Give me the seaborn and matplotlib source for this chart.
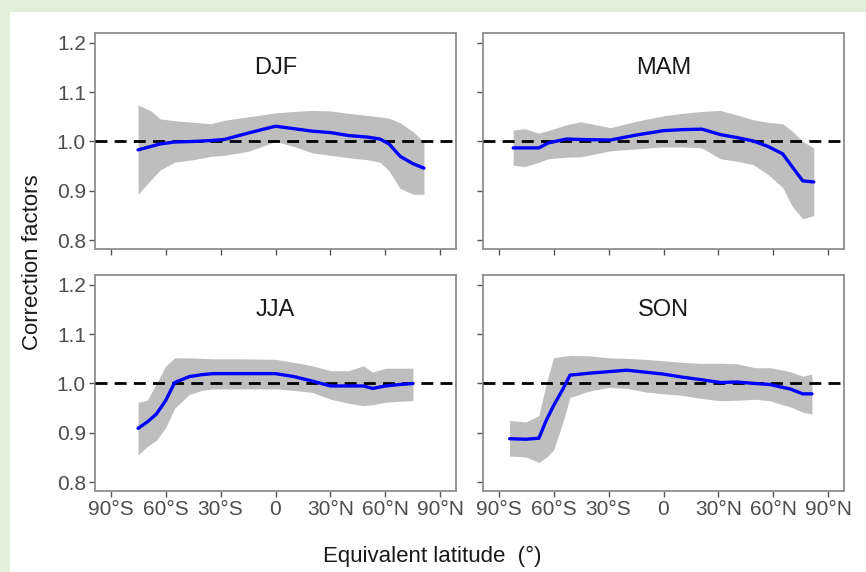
import numpy as np
import pandas as pd
import matplotlib
matplotlib.use("Agg")
import matplotlib.pyplot as plt
from matplotlib.patches import Rectangle
import seaborn as sns

sns.set_theme(style="white")
plt.rcParams['font.family'] = ['Liberation Sans', 'DejaVu Sans']

# ---------------- data ----------------
seasons = ["DJF", "MAM", "JJA", "SON"]

djf_lat = [-75, -68, -63, -55, -45, -35, -28, -15, 0, 10, 20, 30, 40, 50, 57, 62, 68, 75, 81]
djf_mean = [0.983, 0.990, 0.995, 0.999, 1.000, 1.002, 1.004, 1.017, 1.031, 1.026, 1.021, 1.018,
            1.012, 1.009, 1.005, 0.995, 0.970, 0.955, 0.946]
djf_upper = [1.074, 1.062, 1.046, 1.042, 1.039, 1.036, 1.043, 1.050, 1.058, 1.061, 1.063, 1.062,
             1.057, 1.053, 1.050, 1.047, 1.038, 1.020, 0.999]
djf_lower = [0.893, 0.922, 0.942, 0.958, 0.963, 0.970, 0.972, 0.980, 1.000, 0.990, 0.977, 0.972,
             0.967, 0.963, 0.958, 0.940, 0.905, 0.893, 0.893]

mam_lat = [-82, -76, -68, -63, -53, -45, -29, -15, 0, 10, 21, 31, 40, 49, 57, 65, 70, 76, 82]
mam_mean = [0.987, 0.987, 0.987, 0.997, 1.005, 1.004, 1.003, 1.013, 1.022, 1.024, 1.025, 1.014,
            1.008, 1.001, 0.990, 0.975, 0.950, 0.920, 0.918]
mam_upper = [1.023, 1.026, 1.017, 1.022, 1.034, 1.040, 1.028, 1.041, 1.052, 1.057, 1.061, 1.063,
             1.054, 1.044, 1.039, 1.036, 1.022, 1.000, 0.987]
mam_lower = [0.952, 0.949, 0.958, 0.965, 0.968, 0.969, 0.981, 0.985, 0.989, 0.989, 0.987, 0.965,
             0.960, 0.953, 0.933, 0.907, 0.870, 0.843, 0.850]

jja_lat = [-75, -70, -65, -60, -55, -47, -40, -34, -20, 0, 10, 20, 30, 40, 48, 53, 60, 68, 75]
jja_mean = [0.909, 0.922, 0.938, 0.965, 1.002, 1.014, 1.018, 1.020, 1.020, 1.020, 1.014, 1.005,
            0.995, 0.995, 0.995, 0.990, 0.995, 0.998, 1.000]
jja_upper = [0.962, 0.966, 1.000, 1.035, 1.052, 1.052, 1.051, 1.050, 1.050, 1.049, 1.043, 1.036,
             1.026, 1.026, 1.036, 1.023, 1.031, 1.031, 1.031]
jja_lower = [0.855, 0.872, 0.885, 0.910, 0.950, 0.978, 0.986, 0.989, 0.989, 0.989, 0.986, 0.982,
             0.968, 0.960, 0.955, 0.957, 0.962, 0.964, 0.965]

son_lat = [-84, -75, -68, -64, -60, -55, -51, -40, -30, -20, -10, 0, 10, 20, 31, 40, 50, 58, 64,
           69, 76, 81]
son_mean = [0.888, 0.887, 0.889, 0.925, 0.955, 0.988, 1.017, 1.021, 1.024, 1.027, 1.023, 1.019,
            1.013, 1.008, 1.002, 1.003, 1.000, 0.998, 0.993, 0.989, 0.979, 0.979]
son_upper = [0.925, 0.922, 0.935, 1.000, 1.052, 1.055, 1.057, 1.056, 1.052, 1.051, 1.049, 1.046,
             1.043, 1.041, 1.041, 1.040, 1.032, 1.032, 1.028, 1.024, 1.015, 1.019]
son_lower = [0.853, 0.851, 0.840, 0.850, 0.865, 0.920, 0.972, 0.985, 0.992, 0.990, 0.983, 0.979,
             0.976, 0.970, 0.965, 0.966, 0.968, 0.965, 0.958, 0.953, 0.942, 0.938]

x_ticks = [-90, -60, -30, 0, 30, 60, 90]
x_ticklabels = ["90°S", "60°S", "30°S", "0", "30°N", "60°N", "90°N"]
y_ticks = [0.8, 0.9, 1.0, 1.1, 1.2]
y_ticklabels = ["0.8", "0.9", "1.0", "1.1", "1.2"]

series = {
    "DJF": (djf_lat, djf_mean, djf_upper, djf_lower),
    "MAM": (mam_lat, mam_mean, mam_upper, mam_lower),
    "JJA": (jja_lat, jja_mean, jja_upper, jja_lower),
    "SON": (son_lat, son_mean, son_upper, son_lower),
}

# ---------------- figure ----------------
W, H = 866, 572
fig = plt.figure(figsize=(W / 100, H / 100), dpi=100, facecolor="#e2efd9")
fig.patches.append(Rectangle((10 / W, 0), 1 - 10 / W, 1 - 12 / H,
                             transform=fig.transFigure, facecolor="white",
                             edgecolor="none", zorder=-1))

lefts = [95, 483]
tops = [33, 275]
pw, ph = 361, 216
positions = {
    "DJF": (lefts[0], tops[0]),
    "MAM": (lefts[1], tops[0]),
    "JJA": (lefts[0], tops[1]),
    "SON": (lefts[1], tops[1]),
}

border_col = "#8f8f8f"
tick_col = "#555555"
label_col = "#4d4d4d"

for s in seasons:
    lx, ty = positions[s]
    ax = fig.add_axes([lx / W, 1 - (ty + ph) / H, pw / W, ph / H])
    lat, mean, up, lo = series[s]
    df = pd.DataFrame({"lat": lat, "mean": mean, "upper": up, "lower": lo})
    ax.fill_between(df["lat"], df["lower"], df["upper"], color="#bebebe", lw=0, zorder=1)
    ax.axhline(1.0, color="black", lw=2.0, dashes=(4.3, 2.6), zorder=3)
    sns.lineplot(data=df, x="lat", y="mean", ax=ax, color="#0000ff", lw=2.4,
                 estimator=None, sort=False, zorder=4)
    ax.set_xlim(-98.5, 98.5)
    ax.set_ylim(0.782, 1.22)
    ax.set_xticks(x_ticks)
    ax.set_yticks(y_ticks)
    bottom_row = s in ("JJA", "SON")
    left_col = s in ("DJF", "JJA")
    ax.set_xticklabels(x_ticklabels if bottom_row else [])
    ax.set_yticklabels(y_ticklabels if left_col else [])
    ax.tick_params(axis="both", which="both", direction="out", length=4.5, width=1.0,
                   color=tick_col, labelcolor=label_col, labelsize=15, pad=2,
                   bottom=True, left=True)
    ax.set_xlabel("")
    ax.set_ylabel("")
    for sp in ax.spines.values():
        sp.set_visible(True)
        sp.set_color(border_col)
        sp.set_linewidth(1.3)
    ax.text(0.5, 0.836, s, transform=ax.transAxes, ha="center", va="center",
            fontsize=17, color="#1a1a1a")

fig.text(432 / W, 1 - 556 / H, "Equivalent latitude  (°)", ha="center", va="center",
         fontsize=16, color="#1a1a1a")
fig.text(33 / W, 1 - 262 / H, "Correction factors", ha="center", va="center",
         rotation=90, fontsize=16, color="#1a1a1a")

fig.savefig("out.png", dpi=100, facecolor=fig.get_facecolor())
